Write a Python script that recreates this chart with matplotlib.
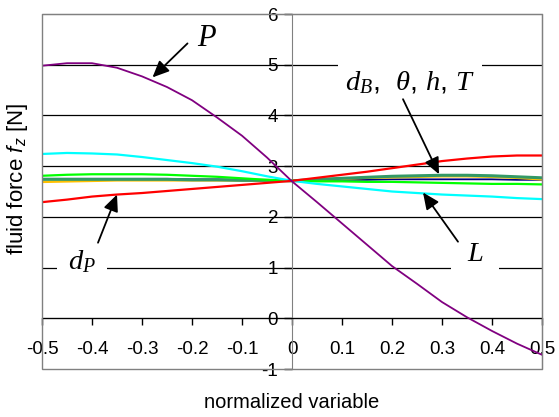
import numpy as np
import matplotlib
matplotlib.use('Agg')
import matplotlib.pyplot as plt
from matplotlib.patches import Rectangle

plt.rcParams['font.family'] = ['Liberation Sans', 'DejaVu Sans']
plt.rcParams['axes.unicode_minus'] = False
plt.rcParams['mathtext.fontset'] = 'custom'
plt.rcParams['mathtext.rm'] = 'Liberation Serif'
plt.rcParams['mathtext.it'] = 'Liberation Serif:italic'
plt.rcParams['mathtext.sf'] = 'Liberation Sans:italic'

# normalized variable
x = [-0.5, -0.45, -0.4, -0.35, -0.3, -0.25, -0.2, -0.15, -0.1, -0.05, 0.0,
     0.05, 0.1, 0.15, 0.2, 0.25, 0.3, 0.35, 0.4, 0.45, 0.5]

f_P = [4.98, 5.03, 5.03, 4.94, 4.77, 4.56, 4.30, 3.96, 3.60, 3.17, 2.70,
       2.29, 1.87, 1.45, 1.03, 0.68, 0.32, 0.02, -0.25, -0.50, -0.72]
f_dP = [2.29, 2.34, 2.40, 2.44, 2.47, 2.51, 2.55, 2.59, 2.63, 2.67, 2.71,
        2.77, 2.83, 2.89, 2.96, 3.03, 3.10, 3.15, 3.19, 3.21, 3.21]
f_L = [3.24, 3.26, 3.25, 3.23, 3.18, 3.12, 3.06, 2.99, 2.90, 2.80, 2.71,
       2.65, 2.60, 2.55, 2.50, 2.47, 2.44, 2.42, 2.40, 2.37, 2.35]
f_green = [2.81, 2.83, 2.84, 2.84, 2.84, 2.83, 2.81, 2.79, 2.76, 2.73, 2.71,
           2.70, 2.70, 2.69, 2.69, 2.68, 2.67, 2.66, 2.65, 2.65, 2.64]
f_navy = [2.75, 2.75, 2.75, 2.75, 2.75, 2.75, 2.74, 2.74, 2.73, 2.72, 2.71,
          2.72, 2.73, 2.73, 2.74, 2.74, 2.74, 2.74, 2.74, 2.73, 2.73]
f_orange = [2.69, 2.70, 2.71, 2.72, 2.72, 2.72, 2.72, 2.72, 2.72, 2.71, 2.71,
            2.73, 2.75, 2.77, 2.78, 2.79, 2.80, 2.80, 2.79, 2.77, 2.74]
f_sea = [2.74, 2.74, 2.74, 2.74, 2.74, 2.74, 2.73, 2.73, 2.72, 2.72, 2.71,
         2.74, 2.76, 2.78, 2.80, 2.81, 2.82, 2.82, 2.81, 2.79, 2.77]

xticks = [-0.5, -0.4, -0.3, -0.2, -0.1, 0, 0.1, 0.2, 0.3, 0.4, 0.5]
xticklabels = ['-0.5', '-0.4', '-0.3', '-0.2', '-0.1', '0', '0.1', '0.2', '0.3', '0.4', '0.5']
yticks = [-1, 0, 1, 2, 3, 4, 5, 6]

fig = plt.figure(figsize=(5.59, 4.17), dpi=100)
ax = fig.add_axes([42 / 559, 48 / 417, 500 / 559, 355 / 417])
ax.set_xlim(-0.5, 0.5)
ax.set_ylim(-1, 6)

# horizontal grid lines
for yv in yticks[1:-1]:
    ax.axhline(yv, color='black', lw=0.9, zorder=1)

ax.plot(x, f_navy, color='#000080', lw=1.3, zorder=3)
ax.plot(x, f_orange, color='#FFC000', lw=1.8, zorder=3)
ax.plot(x, f_sea, color='#339966', lw=2.2, zorder=3)
ax.plot(x, f_green, color='#00FF00', lw=1.6, zorder=3)
ax.plot(x, f_L, color='#00FFFF', lw=1.6, zorder=3)
ax.plot(x, f_dP, color='#FF0000', lw=1.6, zorder=3)
ax.plot(x, f_P, color='#800080', lw=1.3, zorder=4)

# axes crossing at the origin
ax.spines['left'].set_position(('data', 0))
ax.spines['bottom'].set_position(('data', 0))
ax.spines['left'].set_color('#808080')
ax.spines['bottom'].set_color('black')
ax.spines['top'].set_color('#808080')
ax.spines['right'].set_color('#808080')
ax.add_patch(Rectangle((0, 0), 1, 1, transform=ax.transAxes, fill=False,
                       edgecolor='#808080', lw=1.0, zorder=5, clip_on=False))

ax.set_xticks(xticks)
ax.set_xticklabels(xticklabels)
ax.set_yticks(yticks)
ax.tick_params(axis='x', direction='out', length=5, width=1, pad=11, labelsize=13.5)
ax.tick_params(axis='y', direction='out', length=6, width=1, pad=4, labelsize=13.5)

fig.text(292 / 559, 1 - 402 / 417, 'normalized variable', ha='center', va='center', fontsize=14.5)
fig.text(18 / 559, 1 - 179 / 417, r'fluid force $\mathsf{f_z}$ [N]', ha='center', va='center',
         rotation=90, fontsize=16)

arrow = dict(arrowstyle='-|>,head_length=1.0,head_width=0.45', color='black', lw=1.3,
             shrinkA=0, shrinkB=0)

ax.annotate('', xy=(-0.279, 4.75), xytext=(-0.209, 5.42), arrowprops=arrow, zorder=6)
ax.text(-0.17, 5.53, r'$P$', fontsize=22, ha='center', va='center', zorder=6)

ax.annotate('', xy=(0.294, 2.84), xytext=(0.222, 4.32), arrowprops=arrow, zorder=6)
ax.text(0.236, 4.64, r'$d_B$,  $\theta$, $h$, $T$', fontsize=20.5, ha='center', va='center',
        bbox=dict(boxstyle='square,pad=0.25', fc='white', ec='none'), zorder=2)

ax.annotate('', xy=(0.262, 2.48), xytext=(0.332, 1.51), arrowprops=arrow, zorder=6)
ax.text(0.366, 1.26, r'$L$', fontsize=20.5, ha='center', va='center',
        bbox=dict(boxstyle='square,pad=0.55', fc='white', ec='none'), zorder=2)

ax.annotate('', xy=(-0.35, 2.44), xytext=(-0.388, 1.49), arrowprops=arrow, zorder=6)
ax.text(-0.42, 1.12, r'$d_P$', fontsize=20.5, ha='center', va='center',
        bbox=dict(boxstyle='square,pad=0.4', fc='white', ec='none'), zorder=2)

fig.savefig('out.png', dpi=100)
